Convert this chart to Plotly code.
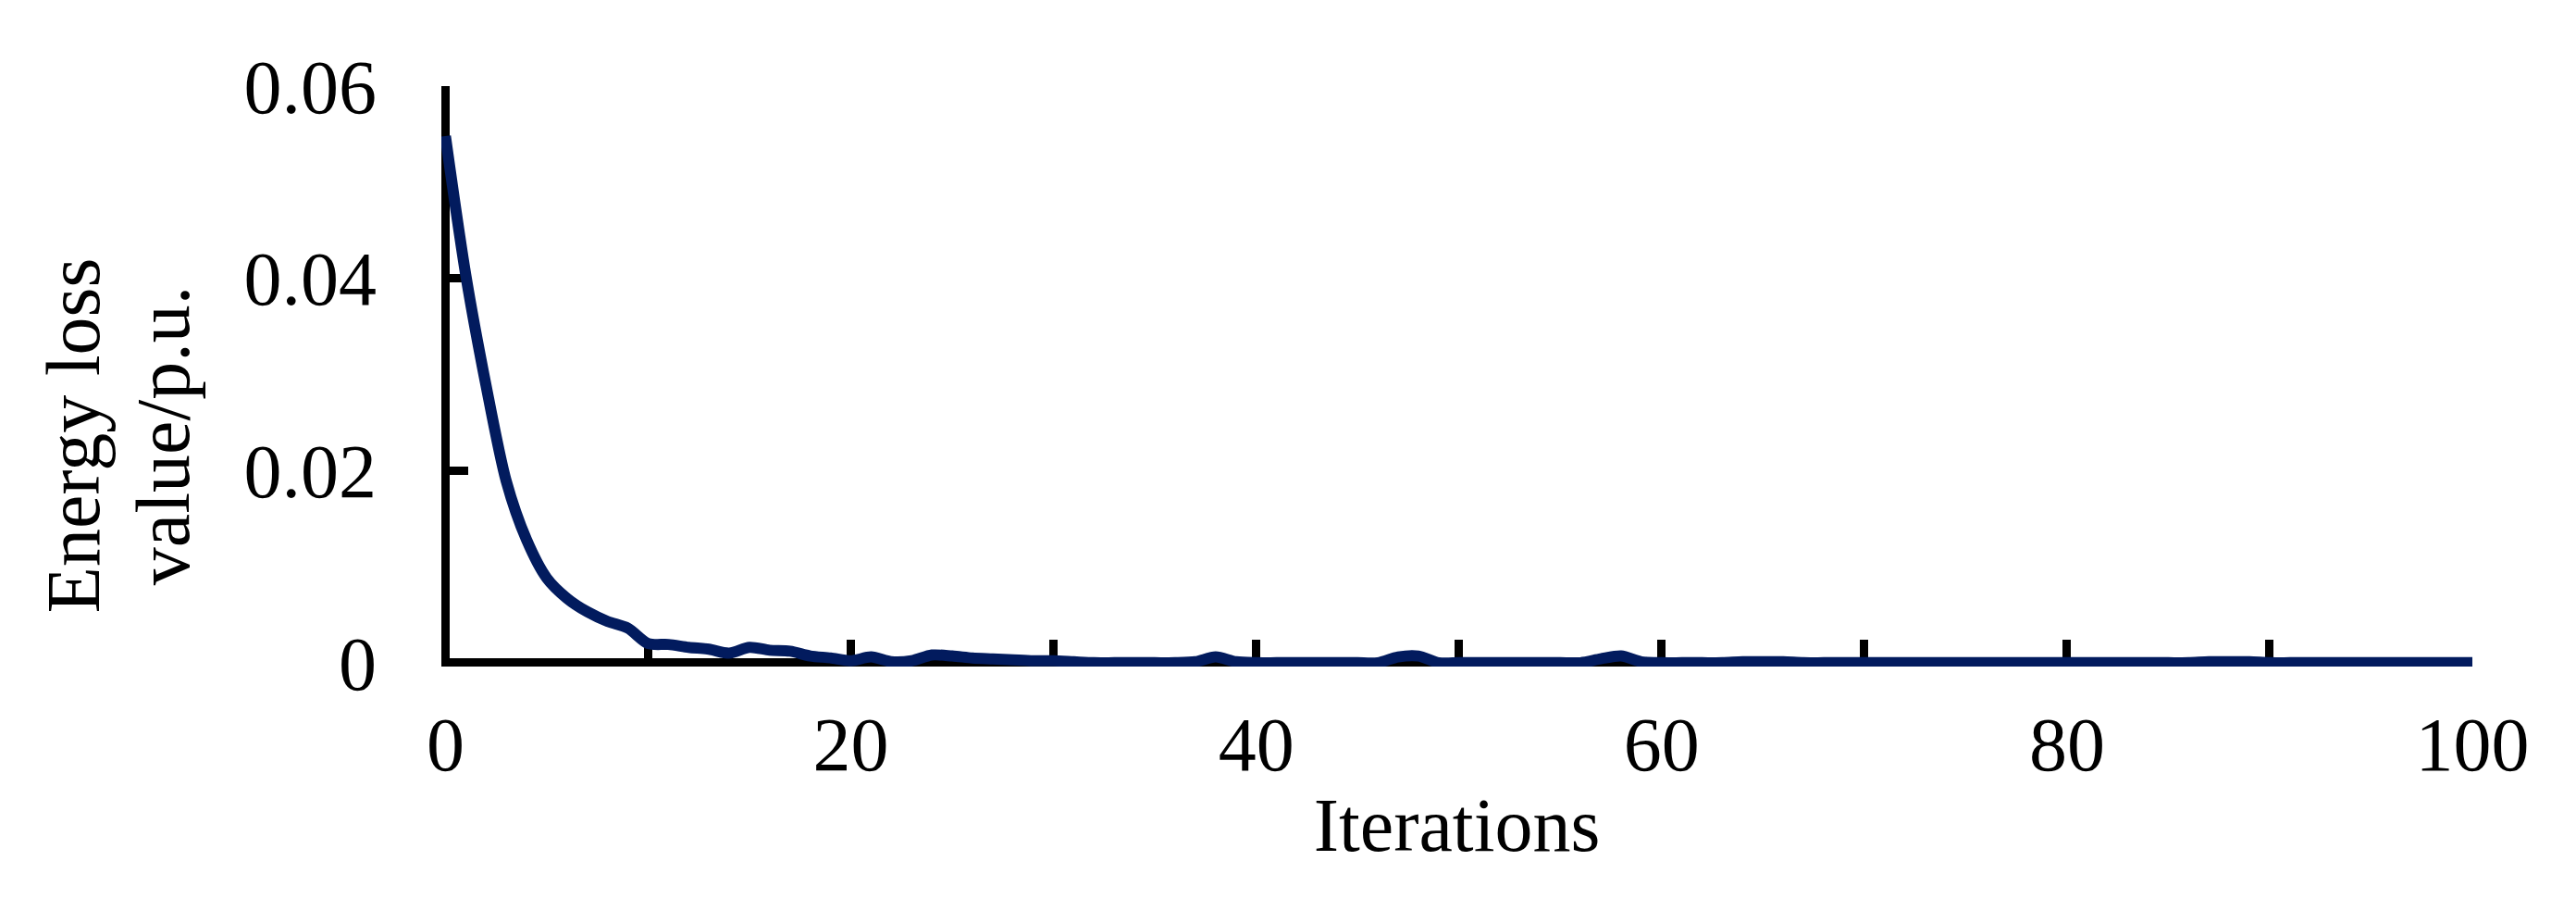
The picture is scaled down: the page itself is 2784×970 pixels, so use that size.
"""Energy loss convergence curve."""

import plotly.graph_objects as go

iterations = list(range(0, 101))
energy_loss = [
    0.0548, 0.0404, 0.0289, 0.0189, 0.0128, 0.0088, 0.0067, 0.0053, 0.0043, 0.0036,
    0.0020, 0.0019, 0.0016, 0.0014, 0.0010, 0.0016, 0.0013, 0.0012, 0.0007, 0.0005,
    0.0002, 0.0006, 0.0001, 0.0002, 0.0008, 0.0007, 0.0005, 0.0004, 0.0003, 0.0002,
    0.0002, 0.0001, 0.0000, 0.0000, 0.0000, 0.0000, 0.0000, 0.0001, 0.0006, 0.0001,
    0.0000, 0.0000, 0.0000, 0.0000, 0.0000, 0.0000, 0.0000, 0.0006, 0.0007, 0.0000,
    0.0000, 0.0000, 0.0000, 0.0000, 0.0000, 0.0000, 0.0000, 0.0004, 0.0007, 0.0001,
    0.0000, 0.0000, 0.0000, 0.0000, 0.0001, 0.0001, 0.0001, 0.0000, 0.0000, 0.0000,
    0.0000, 0.0000, 0.0000, 0.0000, 0.0000, 0.0000, 0.0000, 0.0000, 0.0000, 0.0000,
    0.0000, 0.0000, 0.0000, 0.0000, 0.0000, 0.0000, 0.0000, 0.0001, 0.0001, 0.0001,
    0.0000, 0.0000, 0.0000, 0.0000, 0.0000, 0.0000, 0.0000, 0.0000, 0.0000, 0.0000,
    0.0000,
]

x_ticks = [0, 20, 40, 60, 80, 100]
y_ticks = [0, 0.02, 0.04, 0.06]
y_tick_text = ["0", "0.02", "0.04", "0.06"]
y_title_lines = ["Energy loss", "value/p.u."]

FONT = "Liberation Serif, Times New Roman, serif"
SIZE = 82

fig = go.Figure()
fig.add_trace(go.Scatter(
    x=iterations, y=energy_loss, mode="lines",
    line=dict(color="#021b5e", width=12, shape="spline", smoothing=0.8),
    showlegend=False,
))

# page body has an 8px margin, so the figure is a little smaller than the window
fig.update_layout(
    width=2768, height=954,
    plot_bgcolor="white", paper_bgcolor="white",
    margin=dict(l=469, r=104, t=85, b=242),
    font=dict(family=FONT, size=SIZE, color="black"),
    annotations=[
        dict(text=y_title_lines[0], textangle=-90, xref="paper", yref="paper",
             x=-0.1813, y=0.397, xanchor="center", yanchor="middle", showarrow=False),
        dict(text=y_title_lines[1], textangle=-90, xref="paper", yref="paper",
             x=-0.1371, y=0.397, xanchor="center", yanchor="middle", showarrow=False),
    ],
)
fig.update_xaxes(
    range=[-0.2, 100], tickvals=x_ticks, ticks="inside", ticklen=29, tickwidth=9,
    tickcolor="black", showline=False, showgrid=False,
    zeroline=True, zerolinewidth=9, zerolinecolor="black",
    minor=dict(dtick=10, tick0=0, ticks="inside", ticklen=29, tickwidth=9, tickcolor="black"),
    ticklabelstandoff=29,
    title=dict(text="Iterations", standoff=12, font=dict(family=FONT, size=SIZE)),
    layer="below traces",
)
fig.update_yaxes(
    range=[-0.0004, 0.06], tickvals=y_ticks, ticktext=y_tick_text,
    ticks="inside", ticklen=29, tickwidth=9, tickcolor="black",
    showline=False, showgrid=False,
    zeroline=True, zerolinewidth=9, zerolinecolor="black",
    ticklabelstandoff=69, layer="below traces",
)

fig.write_html("out.html")
